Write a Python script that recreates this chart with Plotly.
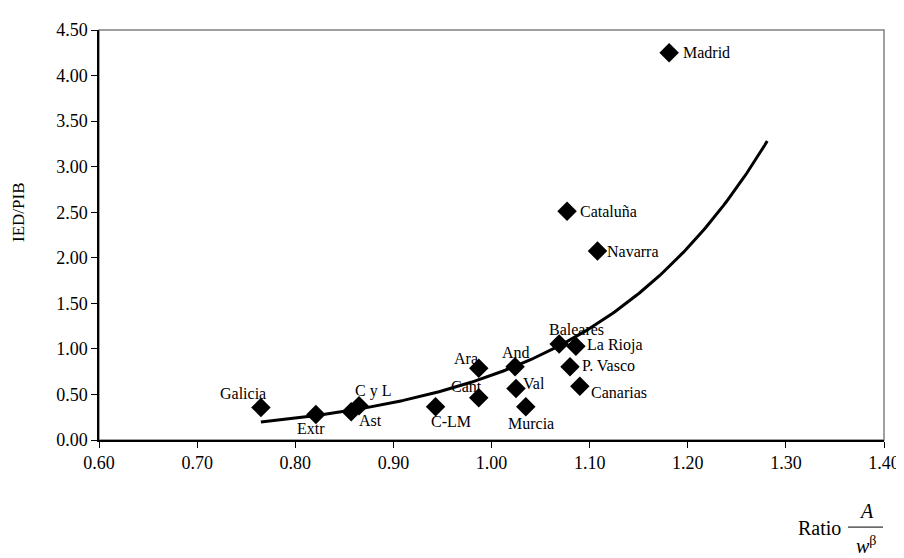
import numpy as np
import plotly.graph_objects as go

regions = ["Galicia", "Extr", "Ast", "C y L", "C-LM", "Cant", "Ara", "And", "Val",
           "Murcia", "Baleares", "La Rioja", "P. Vasco", "Canarias", "Cataluña",
           "Navarra", "Madrid"]
ratio = [0.765, 0.821, 0.857, 0.865, 0.943, 0.987, 0.987, 1.024, 1.025,
         1.035, 1.069, 1.086, 1.080, 1.090, 1.077, 1.108, 1.181]
ied_pib = [0.357, 0.279, 0.311, 0.375, 0.365, 0.465, 0.787, 0.805, 0.565,
           0.365, 1.055, 1.030, 0.805, 0.590, 2.510, 2.074, 4.249]
x_ticks = [0.60, 0.70, 0.80, 0.90, 1.00, 1.10, 1.20, 1.30, 1.40]
y_ticks = [0.00, 0.50, 1.00, 1.50, 2.00, 2.50, 3.00, 3.50, 4.00, 4.50]
forecast_forward = 0.1

# label placement (pixel offsets from the marker: dx right, dy down, anchor)
label_layout = {
    "Galicia": (-18, -14, "center"), "Extr": (-5, 14, "center"),
    "Ast": (19, 9, "center"), "C y L": (14, -15, "center"),
    "C-LM": (15, 15, "center"), "Cant": (-12, -11, "center"),
    "Ara": (-13, -10, "center"), "And": (1, -14, "center"),
    "Val": (18, -5, "center"), "Murcia": (5, 17, "center"),
    "Baleares": (17, -14, "center"), "La Rioja": (9, -1, "left"),
    "P. Vasco": (10, -1, "left"), "Canarias": (9, 6, "left"),
    "Cataluña": (11, 0, "left"), "Navarra": (8, 0, "left"),
    "Madrid": (12, 0, "left"),
}

# Exponential trendline (least squares on ln y, as a spreadsheet trendline does)
xa = np.array(ratio)
b, lna = np.polyfit(xa, np.log(np.array(ied_pib)), 1)
tx = np.linspace(xa.min(), xa.max() + forecast_forward, 200)
ty = np.exp(lna) * np.exp(b * tx)

FONT = "Liberation Serif, Times New Roman, serif"
W, H = 904, 558
L, R, T, B = 91, 28, 13, 126
PW, PH = W - L - R, H - T - B

fig = go.Figure()
fig.add_trace(go.Scatter(x=tx, y=ty, mode="lines",
                         line=dict(color="black", width=3), hoverinfo="skip",
                         showlegend=False))
fig.add_trace(go.Scatter(x=ratio, y=ied_pib, mode="markers", text=regions,
                         marker=dict(symbol="diamond", size=15, color="black"),
                         showlegend=False))

for name, xv, yv in zip(regions, ratio, ied_pib):
    dx, dy, anchor = label_layout[name]
    fig.add_annotation(x=xv, y=yv, xref="x", yref="y", text=name, showarrow=False,
                       xanchor=anchor, yanchor="middle", xshift=dx, yshift=-dy,
                       font=dict(family=FONT, size=16, color="black"))

fig.update_layout(
    width=W, height=H,
    margin=dict(l=L, r=R, t=T, b=B),
    plot_bgcolor="white", paper_bgcolor="white",
    font=dict(family=FONT, size=18, color="black"),
    xaxis=dict(range=[0.6, 1.4], tickvals=x_ticks,
               ticktext=[f"{v:.2f}" for v in x_ticks],
               showgrid=False, zeroline=False, showline=True, linecolor="black",
               linewidth=1.5, ticks="outside", ticklen=6, tickcolor="black",
               tickwidth=1, tickfont=dict(family=FONT, size=18)),
    yaxis=dict(range=[0, 4.5], tickvals=y_ticks,
               ticktext=[f"{v:.2f}" for v in y_ticks],
               showgrid=False, zeroline=False, showline=True, linecolor="black",
               linewidth=1.5, ticks="outside", ticklen=6, tickcolor="black",
               tickwidth=1, tickfont=dict(family=FONT, size=18)),
)

# gray plot-area frame (top/right)
fig.add_shape(type="rect", xref="paper", yref="paper", x0=0, y0=0, x1=1, y1=1,
              line=dict(color="#808080", width=1.5), layer="below")


def px(xpix):
    return (xpix - L) / PW


def py(ypix):
    return (H - B - ypix) / PH


# y-axis title
fig.add_annotation(xref="paper", yref="paper", x=px(10), y=py(199),
                   xanchor="center", yanchor="middle", showarrow=False,
                   textangle=-90, text="IED/PIB", font=dict(family=FONT, size=17))

# x-axis title: Ratio A / w^β
fig.add_annotation(xref="paper", yref="paper", x=px(835), y=py(522),
                   xanchor="right", yanchor="middle", showarrow=False,
                   text="Ratio", font=dict(family=FONT, size=20))
fig.add_annotation(xref="paper", yref="paper", x=px(858), y=py(505),
                   xanchor="center", yanchor="middle", showarrow=False,
                   text="<i>A</i>", font=dict(family=FONT, size=20))
fig.add_annotation(xref="paper", yref="paper", x=px(858), y=py(539),
                   xanchor="center", yanchor="middle", showarrow=False,
                   text="<i>w</i><sup>β</sup>", font=dict(family=FONT, size=20))
fig.add_shape(type="line", xref="paper", yref="paper",
              x0=px(840), x1=px(875), y0=py(521), y1=py(521),
              line=dict(color="black", width=1))

fig.write_html("out.html")
